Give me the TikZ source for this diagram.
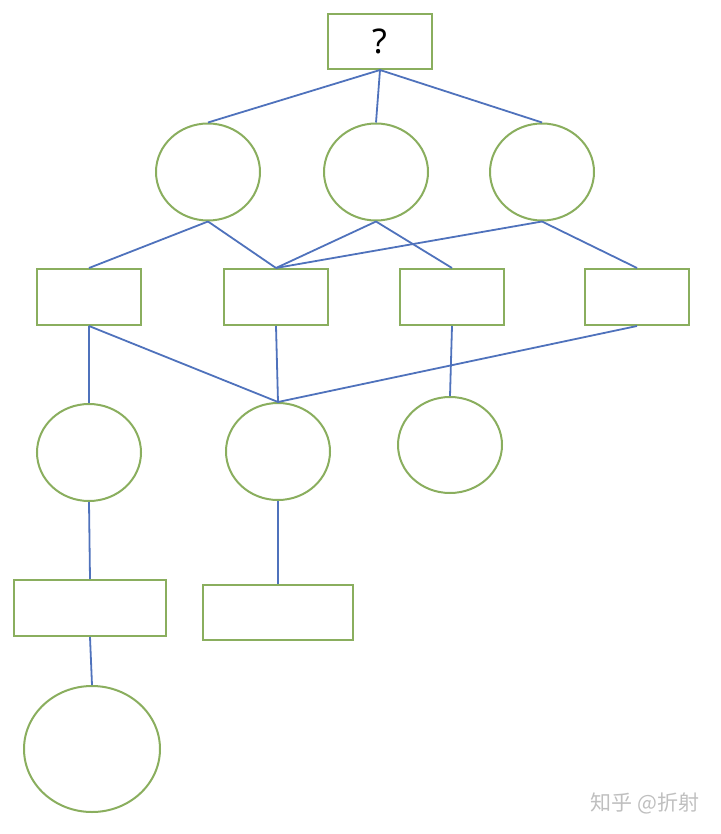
\documentclass[tikz,border=0pt]{standalone}
\usepackage{fontspec}
\setmainfont{Noto Sans}
\newfontfamily\cjk{Noto Sans CJK SC}
\usetikzlibrary{shapes.geometric}
\definecolor{boxgreen}{HTML}{8AAE5E}
\definecolor{linkblue}{HTML}{4F72BC}
\tikzset{
  box/.style={draw=boxgreen, line width=1pt, rectangle, inner sep=0pt},
  ball/.style={draw=boxgreen, line width=1pt, ellipse, inner sep=0pt},
  link/.style={draw=linkblue, line width=0.9pt}
}
\begin{document}
\begin{tikzpicture}[x=0.5pt, y=-0.5pt]
\useasboundingbox (0,0) rectangle (720,834);

% Top
\node[box, minimum width=52pt, minimum height=27.5pt] (top) at (380,41.5) {\fontsize{17}{20}\selectfont ?};

% First row of circles
\node[ball, minimum width=52pt, minimum height=48.5pt] (c1) at (208,172) {};
\node[ball, minimum width=52pt, minimum height=48.5pt] (c2) at (376,172) {};
\node[ball, minimum width=52pt, minimum height=48.5pt] (c3) at (542,172) {};

% Second row of boxes
\node[box, minimum width=52pt, minimum height=28pt] (r1) at (89,297) {};
\node[box, minimum width=52pt, minimum height=28pt] (r2) at (276,297) {};
\node[box, minimum width=52pt, minimum height=28pt] (r3) at (452,297) {};
\node[box, minimum width=52pt, minimum height=28pt] (r4) at (637,297) {};

% Third row of circles
\node[ball, minimum width=52pt, minimum height=48.5pt] (e1) at (89,452.5) {};
\node[ball, minimum width=52pt, minimum height=48.5pt] (e2) at (278,451.5) {};
\node[ball, minimum width=52pt, minimum height=48pt] (e3) at (450,445) {};

% Fourth row of boxes
\node[box, minimum width=76pt, minimum height=28pt] (b1) at (90,608) {};
\node[box, minimum width=75pt, minimum height=27.5pt] (b2) at (278,612.5) {};

% Bottom circle
\node[ball, minimum width=68pt, minimum height=63pt] (last) at (92,749) {};

% Links
\draw[link] (top.south) -- (c1.north);
\draw[link] (top.south) -- (c2.north);
\draw[link] (top.south) -- (c3.north);
\draw[link] (c1.south) -- (r1.north);
\draw[link] (c1.south) -- (r2.north);
\draw[link] (c2.south) -- (r2.north);
\draw[link] (c2.south) -- (r3.north);
\draw[link] (c3.south) -- (r2.north);
\draw[link] (c3.south) -- (r4.north);
\draw[link] (r1.south) -- (e1.north);
\draw[link] (r1.south) -- (e2.north);
\draw[link] (r2.south) -- (e2.north);
\draw[link] (r4.south) -- (e2.north);
\draw[link] (r3.south) -- (e3.north);
\draw[link] (e1.south) -- (b1.north);
\draw[link] (e2.south) -- (b2.north);
\draw[link] (b1.south) -- (last.north);

% Watermark
\node[text=black!25, inner sep=0pt] (mark) at (645,803) {\cjk\fontsize{10.5}{12}\selectfont 知乎 @折射};
\end{tikzpicture}
\end{document}
